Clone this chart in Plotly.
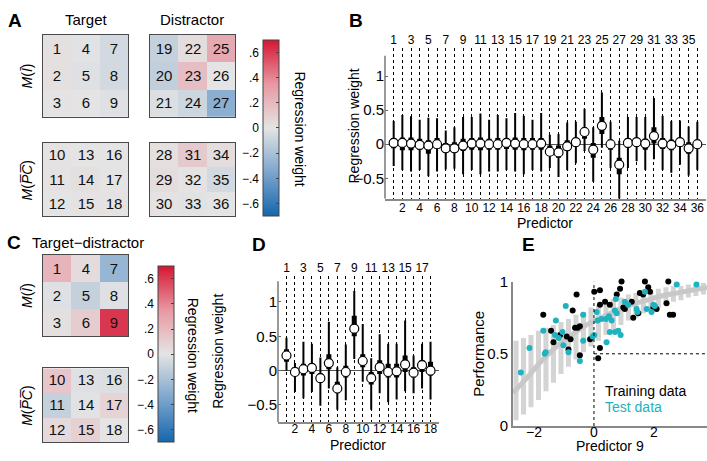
import plotly.graph_objects as go

W, H = 707, 461
FONT = "Arial, Liberation Sans, sans-serif"

# ---------------- data ----------------
pred36 = list(range(1, 37))
b_med = [0.02, 0.02, 0.01, -0.01, -0.02, 0.0, -0.06, -0.06, -0.02, 0.01, 0.01, 0.0,
         0.0, 0.02, 0.01, 0.0, 0.0, 0.01, -0.11, -0.12, -0.03, 0.03, 0.18, -0.08,
         0.27, 0.0, -0.30, 0.02, 0.03, 0.01, 0.12, 0.01, -0.01, 0.03, -0.06, 0.0]
b_thick_lo = [-0.06, -0.09, -0.09, -0.08, -0.14, -0.07, -0.12, -0.13, -0.10, -0.08, -0.09, -0.08,
              -0.08, -0.07, -0.08, -0.09, -0.08, -0.08, -0.17, -0.20, -0.10, -0.04, 0.08, -0.20,
              0.15, -0.08, -0.44, -0.05, -0.04, -0.08, 0.01, -0.07, -0.09, -0.04, -0.14, -0.07]
b_thick_hi = [0.09, 0.10, 0.10, 0.08, 0.06, 0.09, 0.02, 0.03, 0.08, 0.09, 0.10, 0.08,
              0.09, 0.09, 0.10, 0.09, 0.09, 0.09, -0.02, -0.02, 0.06, 0.09, 0.25, 0.02,
              0.40, 0.07, -0.20, 0.09, 0.09, 0.08, 0.25, 0.09, 0.07, 0.09, 0.03, 0.07]
b_thin_lo = [-0.32, -0.38, -0.40, -0.38, -0.47, -0.40, -0.37, -0.36, -0.44, -0.38, -0.44, -0.40,
             -0.40, -0.38, -0.40, -0.44, -0.38, -0.40, -0.35, -0.48, -0.38, -0.28, -0.10, -0.55,
             -0.05, -0.35, -0.80, -0.35, -0.25, -0.38, -0.22, -0.38, -0.42, -0.30, -0.46, -0.38]
b_thin_hi = [0.34, 0.43, 0.41, 0.36, 0.39, 0.38, 0.20, 0.25, 0.40, 0.40, 0.45, 0.36,
             0.43, 0.38, 0.46, 0.42, 0.36, 0.46, 0.14, 0.15, 0.32, 0.33, 0.52, 0.25,
             0.76, 0.33, 0.05, 0.40, 0.40, 0.40, 0.68, 0.42, 0.34, 0.35, 0.26, 0.33]

pred18 = list(range(1, 19))
d_med = [0.22, -0.02, 0.02, 0.04, -0.11, 0.11, -0.26, -0.02, 0.61, 0.14, -0.11, 0.05,
         -0.02, -0.01, 0.09, -0.03, 0.08, 0.0]
d_thick_lo = [0.13, -0.08, -0.07, -0.05, -0.18, 0.02, -0.33, -0.10, 0.50, 0.05, -0.20, -0.05,
              -0.10, -0.10, -0.02, -0.10, -0.02, -0.07]
d_thick_hi = [0.31, 0.05, 0.10, 0.10, -0.04, 0.24, -0.16, 0.07, 0.80, 0.24, -0.02, 0.15,
              0.10, 0.10, 0.22, 0.05, 0.15, 0.13]
d_thin_lo = [0.0, -0.31, -0.40, -0.31, -0.51, -0.26, -0.57, -0.43, 0.17, -0.16, -0.57, -0.33,
             -0.46, -0.42, -0.30, -0.33, -0.26, -0.42]
d_thin_hi = [0.48, 0.11, 0.42, 0.39, 0.19, 0.71, 0.05, 0.38, 1.16, 0.68, 0.18, 0.53,
             0.39, 0.39, 0.73, 0.22, 0.39, 0.42]

# colour-bar ticks
cb_ticks = [-0.6, -0.4, -0.2, 0, 0.2, 0.4, 0.6]
cb_ticktext = ["\u2212.6", "\u2212.4", "\u2212.2", "0", ".2", ".4", ".6"]

# panel E
train_x = [-1.69, -0.58, -0.71, -1.43, -1.35, -1.13, -0.91, -0.78, -0.63, -0.54, -0.47, -0.85,
           -0.47, -0.13, 0.01, 0.20, 0.20, 0.37, 0.53, 0.76, 0.92, 0.87, 0.98, 1.03, 1.26,
           1.31, 1.48, 1.53, 1.64, 1.70, 1.81, 1.87, 1.98, 2.09, 2.48, 2.42, 2.53, 2.64, 0.20, 0.14]
train_y = [0.77, 0.91, 0.80, 0.66, 0.58, 0.63, 0.62, 0.60, 0.68, 0.68, 0.69, 0.53,
           0.49, 0.60, 0.93, 0.94, 0.84, 0.86, 0.84, 0.91, 1.0, 0.95, 0.82, 0.81, 0.86,
           0.75, 0.78, 0.92, 0.91, 1.0, 0.96, 0.93, 0.82, 0.81, 1.0, 0.85, 0.77, 0.77, 0.54, 0.47]
test_x = [-2.44, -2.15, -1.69, -1.61, -1.64, -1.27, -1.30, -1.05, -1.18, -0.94, -1.02, -0.85,
          -0.47, -0.36, -0.36, -0.04, 0.01, 0.09, 0.12, 0.42, 0.40, 0.59, 0.73, 0.70, 0.76,
          0.53, 0.70, 0.81, 0.89, 1.03, 1.14, 1.42, 1.45, 1.76, 1.98, 2.03, 1.70, 2.76, 3.42,
          1.92, 0.25, 0.50]
test_y = [0.37, 0.54, 0.66, 0.51, 0.50, 0.73, 0.63, 0.65, 0.61, 0.83, 0.56, 0.51,
          0.45, 0.59, 0.77, 0.62, 0.63, 0.79, 0.73, 0.58, 0.74, 0.73, 0.88, 0.80, 0.78,
          0.65, 0.65, 0.66, 0.63, 0.86, 0.84, 0.81, 0.79, 0.81, 0.84, 0.83, 0.93, 0.98, 0.98,
          0.79, 0.74, 0.76]
fit_x = [-2.7, -2.25, -1.75, -1.25, -0.75, -0.25, 0.25, 0.75, 1.25, 1.75, 2.25, 2.75, 3.25, 3.77]
fit_y = [0.23, 0.33, 0.45, 0.55, 0.63, 0.70, 0.75, 0.80, 0.84, 0.87, 0.90, 0.92, 0.94, 0.96]
band_x = [-2.6, -2.35, -2.1, -1.85, -1.6, -1.35, -1.1, -0.85, -0.6, -0.35, -0.1, 0.15, 0.4,
          0.65, 0.9, 1.15, 1.4, 1.65, 1.9, 2.15, 2.4, 2.65, 2.9, 3.15, 3.4, 3.65]
band_lo = [0.04, 0.08, 0.13, 0.18, 0.24, 0.30, 0.36, 0.41, 0.46, 0.51, 0.55, 0.59, 0.63,
           0.67, 0.70, 0.73, 0.75, 0.78, 0.80, 0.82, 0.84, 0.86, 0.87, 0.89, 0.90, 0.91]
band_hi = [0.59, 0.61, 0.63, 0.66, 0.68, 0.70, 0.72, 0.74, 0.77, 0.79, 0.82, 0.84, 0.86,
           0.88, 0.89, 0.91, 0.92, 0.93, 0.94, 0.95, 0.96, 0.97, 0.97, 0.98, 0.98, 0.99]

# ---------------- helpers ----------------
def PX(x):
    return x / W


def PY(y):
    return 1 - y / H


TEAL = "rgb(32,178,190)"
CSCALE = [[0.0, "rgb(22,102,172)"], [0.25, "rgb(125,166,206)"], [0.5, "rgb(228,228,228)"],
          [0.75, "rgb(232,152,162)"], [1.0, "rgb(212,22,50)"]]

fig = go.Figure()
layout = dict(width=W, height=H, margin=dict(l=0, r=0, t=0, b=0), autosize=False,
              paper_bgcolor="white", plot_bgcolor="white", showlegend=False,
              font=dict(family=FONT, size=13, color="black"))
shapes = []


def grid_block(vals, start, first_label):
    z, t = [], []
    for r in range(3):
        zr, tr = [], []
        for c in range(3):
            k = start + c * 3 + r
            zr.append(vals[k])
            tr.append(str(first_label + c * 3 + r))
        z.append(zr)
        t.append(tr)
    return z, t


def add_heat(n, vals, start, first_label, x0, x1, y0, y1, cax):
    z, t = grid_block(vals, start, first_label)
    fig.add_trace(go.Heatmap(z=z, x=[0, 1, 2], y=[0, 1, 2], text=t, texttemplate="%{text}",
                             textfont=dict(size=15, family=FONT, color="#111"),
                             coloraxis=cax, xaxis=f"x{n}", yaxis=f"y{n}",
                             hoverinfo="skip", xgap=0, ygap=0))
    ax = dict(showticklabels=False, ticks="", showgrid=False, zeroline=False, showline=True,
              linecolor="#4a4a4a", linewidth=1, mirror=True, range=[-0.5, 2.5], fixedrange=True)
    layout[f"xaxis{n}"] = dict(ax, domain=[PX(x0), PX(x1)], anchor=f"y{n}")
    layout[f"yaxis{n}"] = dict(ax, domain=[PY(y1), PY(y0)], anchor=f"x{n}",
                               range=[2.5, -0.5])


# Panel A heatmaps
add_heat(1, b_med, 0, 1, 43, 128, 27, 112, "coloraxis")
add_heat(2, b_med, 18, 19, 150, 235, 27, 112, "coloraxis")
add_heat(3, b_med, 9, 10, 43, 128, 139, 215, "coloraxis")
add_heat(4, b_med, 27, 28, 150, 235, 139, 215, "coloraxis")
# Panel C heatmaps
add_heat(5, d_med, 0, 1, 43, 128, 255, 340, "coloraxis2")
add_heat(6, d_med, 9, 10, 43, 128, 373, 450, "coloraxis2")


def cbar(x0, ytop, ybot):
    return dict(x=PX(x0), xanchor="left", y=PY((ytop + ybot) / 2), yanchor="middle",
                len=(ybot - ytop) / H, lenmode="fraction", thickness=16, thicknessmode="pixels",
                xpad=0, ypad=0, outlinecolor="#444", outlinewidth=1, tickvals=cb_ticks,
                showticklabels=False, ticks="inside", ticklen=3, tickcolor="#444")


layout["coloraxis"] = dict(colorscale=CSCALE, cmin=-0.7, cmax=0.7, colorbar=cbar(263, 32, 215))
layout["coloraxis2"] = dict(colorscale=CSCALE, cmin=-0.7, cmax=0.7, colorbar=cbar(158, 267, 450))


# Tick-label axes for the colour bars
def cb_axis(n, x0, ytop, ybot):
    fig.add_trace(go.Scatter(x=[], y=[], xaxis=f"x{n}", yaxis=f"y{n}", hoverinfo="skip"))
    layout[f"xaxis{n}"] = dict(domain=[PX(x0), PX(x0 + 16)], visible=False, anchor=f"y{n}",
                               range=[0, 1])
    layout[f"yaxis{n}"] = dict(domain=[PY(ybot), PY(ytop)], anchor=f"x{n}", range=[-0.7, 0.7],
                               tickvals=cb_ticks, ticktext=cb_ticktext, showgrid=False,
                               zeroline=False, showline=False, ticks="", side="left",
                               tickfont=dict(size=12), ticklabelstandoff=3)


cb_axis(12, 263, 32, 215)
cb_axis(13, 158, 267, 450)


# Interval plots for B and D
def add_intervals(nx, ny, xs, med, tlo, thi, klo, khi):
    thin_x, thin_y, thick_x, thick_y = [], [], [], []
    for i, p in enumerate(xs):
        thin_x += [p, p, None]
        thin_y += [tlo[i], thi[i], None]
        thick_x += [p, p, None]
        thick_y += [klo[i], khi[i], None]
    fig.add_trace(go.Scatter(x=thin_x, y=thin_y, mode="lines", line=dict(color="black", width=2),
                             xaxis=nx, yaxis=ny, hoverinfo="skip", cliponaxis=True))
    fig.add_trace(go.Scatter(x=thick_x, y=thick_y, mode="lines", line=dict(color="black", width=5),
                             xaxis=nx, yaxis=ny, hoverinfo="skip"))
    fig.add_trace(go.Scatter(x=xs, y=med, mode="markers",
                             marker=dict(color="white", size=9, line=dict(color="black", width=1.2)),
                             xaxis=nx, yaxis=ny, hoverinfo="skip"))


def interval_axes(nb, nt, xs, x0, x1, y0, y1, xmax, ymin, ymax, standoff):
    layout[f"xaxis{nb}"] = dict(domain=[PX(x0), PX(x1)], anchor=f"y{nb}", range=[0, xmax],
                                tickvals=xs, ticktext=[str(p) if p % 2 == 0 else "" for p in xs],
                                ticks="", showgrid=True, gridcolor="black", griddash="dot",
                                gridwidth=1, showline=True, linecolor="#8a8a8a", linewidth=1.5,
                                zeroline=False, tickfont=dict(size=12), fixedrange=True,
                                ticklabeloverflow="allow", ticklabelstandoff=standoff)
    layout[f"yaxis{nb}"] = dict(domain=[PY(y1), PY(y0)], anchor=f"x{nb}", range=[ymin, ymax],
                                tickvals=[-0.5, 0, 0.5, 1], ticks="inside", ticklen=3,
                                tickcolor="#666", showgrid=False, showline=False,
                                zeroline=True, zerolinecolor="#555", zerolinewidth=1.2,
                                tickfont=dict(size=15), fixedrange=True)
    # visible y-axis line stops at 1.3 while the dotted guides run a little higher
    shapes.append(dict(type="line", xref=f"x{nb} domain", yref=f"y{nb}", x0=0, x1=0,
                       y0=ymin, y1=1.3, line=dict(color="#777", width=1.5)))
    fig.add_trace(go.Scatter(x=[], y=[], xaxis=f"x{nt}", yaxis=f"y{nb}", hoverinfo="skip"))
    layout[f"xaxis{nt}"] = dict(overlaying=f"x{nb}", side="top", anchor=f"y{nb}", range=[0, xmax],
                                tickvals=[p for p in xs if p % 2 == 1], ticks="", showgrid=False,
                                showline=False, zeroline=False, tickfont=dict(size=12),
                                ticklabeloverflow="allow")


interval_axes(7, 8, pred36, 385, 706, 40, 197, 37, -0.8, 1.42, -3)
add_intervals("x7", "y7", pred36, b_med, b_thin_lo, b_thin_hi, b_thick_lo, b_thick_hi)
interval_axes(9, 10, pred18, 278, 439, 277, 429, 19, -0.75, 1.38, -5)
add_intervals("x9", "y9", pred18, d_med, d_thin_lo, d_thin_hi, d_thick_lo, d_thick_hi)

# Panel E
bx, by = [], []
for i, xv in enumerate(band_x):
    bx += [xv, xv, None]
    by += [band_lo[i], band_hi[i], None]
fig.add_trace(go.Scatter(x=bx, y=by, mode="lines", line=dict(color="rgb(212,212,212)", width=5),
                         xaxis="x11", yaxis="y11", hoverinfo="skip"))
fig.add_trace(go.Scatter(x=fit_x, y=fit_y, mode="lines", line=dict(color="rgb(200,200,200)", width=5,
                         shape="spline"), xaxis="x11", yaxis="y11", hoverinfo="skip"))
fig.add_trace(go.Scatter(x=train_x, y=train_y, mode="markers", marker=dict(color="black", size=6),
                         xaxis="x11", yaxis="y11", hoverinfo="skip", cliponaxis=False))
fig.add_trace(go.Scatter(x=test_x, y=test_y, mode="markers", marker=dict(color=TEAL, size=6),
                         xaxis="x11", yaxis="y11", hoverinfo="skip", cliponaxis=False))
layout["xaxis11"] = dict(domain=[PX(513), PX(707)], anchor="y11", range=[-2.7, 3.77],
                         tickvals=[-2, 0, 2], ticks="", showgrid=False, zeroline=False,
                         showline=True, linecolor="#888", linewidth=2, tickfont=dict(size=14),
                         fixedrange=True, ticklabelstandoff=-8)
layout["yaxis11"] = dict(domain=[PY(433), PY(283)], anchor="x11", range=[0, 1],
                         tickvals=[0, 0.5, 1], ticks="", showgrid=False, zeroline=False,
                         showline=True, linecolor="#888", linewidth=2, tickfont=dict(size=15),
                         fixedrange=True)
shapes += [
    dict(type="line", xref="x11", yref="y11", x0=0, x1=0, y0=0, y1=1,
         line=dict(color="black", width=1, dash="dot")),
    dict(type="line", xref="x11", yref="y11", x0=0, x1=3.77, y0=0.5, y1=0.5,
         line=dict(color="black", width=1, dash="dot")),
]
layout["shapes"] = shapes

# ---------------- text ----------------
ann = []


def txt(x, y, s, size=14, bold=False, angle=0, xanchor="center", color="black"):
    ann.append(dict(x=PX(x), y=PY(y), xref="paper", yref="paper", text=f"<b>{s}</b>" if bold else s,
                    showarrow=False, font=dict(size=size, family=FONT, color=color),
                    textangle=angle, xanchor=xanchor, yanchor="middle"))


txt(15, 12, "A", 19, True)
txt(356, 12, "B", 19, True)
txt(14, 242, "C", 19, True)
txt(259, 244, "D", 19, True)
txt(528, 244, "E", 19, True)
txt(86, 11, "Target", 15)
txt(192, 11, "Distractor", 15)
txt(30, 242, "Target\u2212distractor", 15, xanchor="left")
MI = "<i>M</i>(<i>\u012a</i>)"
MPC = "<i>M</i>(<i>P\u0305C\u0305</i>)"
txt(27, 70, MI, 14, angle=-90)
txt(27, 178, MPC, 14, angle=-90)
txt(27, 298, MI, 14, angle=-90)
txt(27, 412, MPC, 14, angle=-90)
txt(300, 124, "Regression weight", 14, angle=90)
txt(193, 359, "Regression weight", 14, angle=90)
txt(354, 122, "Regression weight", 14, angle=-90)
txt(218, 356, "Regression weight", 14, angle=-90)
txt(545, 222, "Predictor", 14)
txt(358, 453, "Predictor", 14)
txt(479, 358, "Performance", 15, angle=-90)
txt(610, 454, "Predictor 9", 14)
txt(603, 397, "Training data", 14, xanchor="left")
txt(603, 413, "Test data", 14, xanchor="left", color=TEAL)
layout["annotations"] = ann

fig.update_layout(**layout)
fig.write_html("out.html", config={"displayModeBar": False},
               post_script="document.body.style.margin='0px';document.body.style.padding='0px';")
